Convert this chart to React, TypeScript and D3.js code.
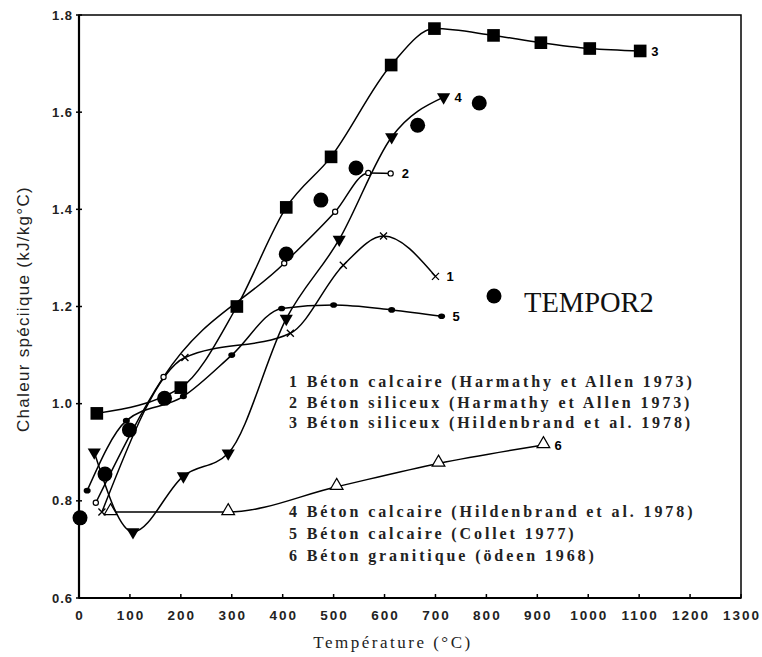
import React from "react";
import * as d3 from "d3";

// ---- data ----
const xTicks = [0, 100, 200, 300, 400, 500, 600, 700, 800, 900, 1000, 1100, 1200, 1300];
const yTicks = [0.6, 0.8, 1.0, 1.2, 1.4, 1.6, 1.8];

// 1 Béton calcaire (Harmathy et Allen 1973) - crosses
const s1T = [45, 208, 415, 519, 598, 700];
const s1C = [0.777, 1.095, 1.145, 1.285, 1.345, 1.262];
// 2 Béton siliceux (Harmathy et Allen 1973) - small open circles
const s2T = [33, 166, 403, 503, 568, 612];
const s2C = [0.796, 1.055, 1.289, 1.395, 1.475, 1.474];
// 3 Béton siliceux (Hildenbrand et al. 1978) - filled squares
const s3T = [35, 200, 310, 407, 495, 613, 698, 814, 907, 1003, 1102];
const s3C = [0.98, 1.033, 1.2, 1.404, 1.508, 1.697, 1.772, 1.758, 1.743, 1.731, 1.726];
// 4 Béton calcaire (Hildenbrand et al. 1978) - filled down triangles
const s4T = [30, 106, 205, 293, 407, 511, 614, 716];
const s4C = [0.9, 0.736, 0.851, 0.898, 1.175, 1.338, 1.549, 1.631];
// 5 Béton calcaire (Collet 1977) - small filled dots
const s5T = [16, 93, 205, 300, 398, 500, 614, 712];
const s5C = [0.821, 0.965, 1.015, 1.1, 1.196, 1.203, 1.193, 1.18];
// 6 Béton granitique (Ödeen 1968) - open triangles
const s6T = [62, 293, 506, 706, 912];
const s6C = [0.777, 0.777, 0.829, 0.877, 0.915];
// TEMPOR2 - big filled circles
const tT = [2, 51, 99, 168, 407, 475, 544, 665, 786];
const tC = [0.765, 0.855, 0.946, 1.011, 1.308, 1.419, 1.485, 1.573, 1.619];

const legendTop = [
  "1 Béton calcaire (Harmathy et Allen 1973)",
  "2 Béton siliceux (Harmathy et Allen 1973)",
  "3 Béton siliceux (Hildenbrand et al. 1978)",
];
const legendBottom = [
  "4 Béton calcaire (Hildenbrand et al. 1978)",
  "5 Béton calcaire (Collet 1977)",
  "6 Béton granitique (ödeen 1968)",
];

const W = 762, H = 657;
const x = d3.scaleLinear().domain([0, 1300]).range([79, 741]);
const y = d3.scaleLinear().domain([0.6, 1.8]).range([598, 15]);

const line = d3
  .line<[number, number]>()
  .x((d) => x(d[0]))
  .y((d) => y(d[1]))
  .curve(d3.curveMonotoneX);

const zip = (a: number[], b: number[]) => a.map((v, i) => [v, b[i]] as [number, number]);

const sans = "'Liberation Sans', Arial, sans-serif";
const serif = "'Liberation Serif', 'Times New Roman', serif";

const square = d3.symbol(d3.symbolSquare, 160)();
const tri = d3.symbol(d3.symbolTriangle, 75)();
const triOpen = d3.symbol(d3.symbolTriangle, 70)();

export default function App() {
  const series = [
    { t: s1T, c: s1C, label: "1" },
    { t: s2T, c: s2C, label: "2" },
    { t: s3T, c: s3C, label: "3" },
    { t: s4T, c: s4C, label: "4" },
    { t: s5T, c: s5C, label: "5" },
    { t: s6T, c: s6C, label: "6" },
  ];
  return (
    <svg
      width={W}
      height={H}
      style={{ position: "absolute", left: 0, top: 0, background: "#fff" }}
    >
      {/* frame */}
      <rect x={x(0)} y={y(1.8)} width={x(1300) - x(0)} height={y(0.6) - y(1.8)} fill="none" stroke="#000" strokeWidth={1.5} />
      <line x1={x(0)} x2={x(0)} y1={y(1.8)} y2={y(0.6)} stroke="#000" strokeWidth={2.2} />
      <line x1={x(0)} x2={x(1300)} y1={y(0.6)} y2={y(0.6)} stroke="#000" strokeWidth={2} />

      {/* y ticks */}
      {yTicks.map((v) => (
        <g key={"y" + v}>
          <line x1={x(0) - 3} x2={x(0) + 3} y1={y(v)} y2={y(v)} stroke="#000" strokeWidth={1.5} />
          <text x={x(0) - 6} y={y(v)} dy="0.35em" textAnchor="end" fontFamily={sans} fontWeight="bold" fontSize={13} letterSpacing={1} fill="#222">
            {v.toFixed(1)}
          </text>
        </g>
      ))}
      {/* x ticks */}
      {xTicks.map((v) => (
        <g key={"x" + v}>
          <line x1={x(v)} x2={x(v)} y1={y(0.6)} y2={y(0.6) - 4} stroke="#000" strokeWidth={1.5} />
          <text x={x(v) + 1} y={y(0.6) + 22} textAnchor="middle" fontFamily={sans} fontWeight="bold" fontSize={13.5} letterSpacing={2} fill="#222">
            {v}
          </text>
        </g>
      ))}

      {/* axis titles */}
      <text transform={`translate(29,309) rotate(-90)`} textAnchor="middle" fontFamily={sans} fontSize={17} letterSpacing={1.3} fill="#222">
        Chaleur spéciique (kJ/kg°C)
      </text>
      <text x={393} y={648} textAnchor="middle" fontFamily={serif} fontSize={17} letterSpacing={2.5} fill="#222">
        Température (°C)
      </text>

      {/* lines */}
      {series.map((s) => (
        <path key={"l" + s.label} d={line(zip(s.t, s.c)) || ""} fill="none" stroke="#000" strokeWidth={1.5} />
      ))}

      {/* markers */}
      {s1T.map((t, i) => {
        const cx = x(t), cy = y(s1C[i]);
        return (
          <path key={"m1" + i} d={`M${cx - 3.5},${cy - 3.5}L${cx + 3.5},${cy + 3.5}M${cx - 3.5},${cy + 3.5}L${cx + 3.5},${cy - 3.5}`} stroke="#000" strokeWidth={1.3} />
        );
      })}
      {s2T.map((t, i) => (
        <circle key={"m2" + i} cx={x(t)} cy={y(s2C[i])} r={2.6} fill="#fff" stroke="#000" strokeWidth={1.2} />
      ))}
      {s3T.map((t, i) => (
        <path key={"m3" + i} d={square || ""} transform={`translate(${x(t)},${y(s3C[i])})`} fill="#000" />
      ))}
      {s4T.map((t, i) => (
        <path key={"m4" + i} d={tri || ""} transform={`translate(${x(t)},${y(s4C[i])}) rotate(180)`} fill="#000" />
      ))}
      {s5T.map((t, i) => (
        <ellipse key={"m5" + i} cx={x(t)} cy={y(s5C[i])} rx={3.5} ry={2.8} fill="#000" />
      ))}
      {s6T.map((t, i) => (
        <path key={"m6" + i} d={triOpen || ""} transform={`translate(${x(t)},${y(s6C[i]) - 1})`} fill="#fff" stroke="#000" strokeWidth={1.2} />
      ))}
      {tT.map((t, i) => (
        <circle key={"mt" + i} cx={x(t)} cy={y(tC[i])} r={7.5} fill="#000" />
      ))}

      {/* series number labels */}
      {series.map((s) => {
        const n = s.t.length - 1;
        return (
          <text key={"n" + s.label} x={x(s.t[n]) + 11} y={y(s.c[n])} dy="0.35em" fontFamily={sans} fontWeight="bold" fontSize={13} fill="#000">
            {s.label}
          </text>
        );
      })}

      {/* TEMPOR2 legend */}
      <circle cx={494} cy={296} r={7.5} fill="#000" />
      <text x={524} y={312} fontFamily={serif} fontSize={28.5} fill="#111">
        TEMPOR2
      </text>

      {/* text legends */}
      {legendTop.map((s, i) => (
        <text key={"lt" + i} x={289} y={387 + i * 20.5} fontFamily={serif} fontWeight="bold" fontSize={16} letterSpacing={2.9} fill="#222">
          {s}
        </text>
      ))}
      {legendBottom.map((s, i) => (
        <text key={"lb" + i} x={289} y={517 + i * 22} fontFamily={serif} fontWeight="bold" fontSize={16} letterSpacing={2.9} fill="#222">
          {s}
        </text>
      ))}
    </svg>
  );
}
